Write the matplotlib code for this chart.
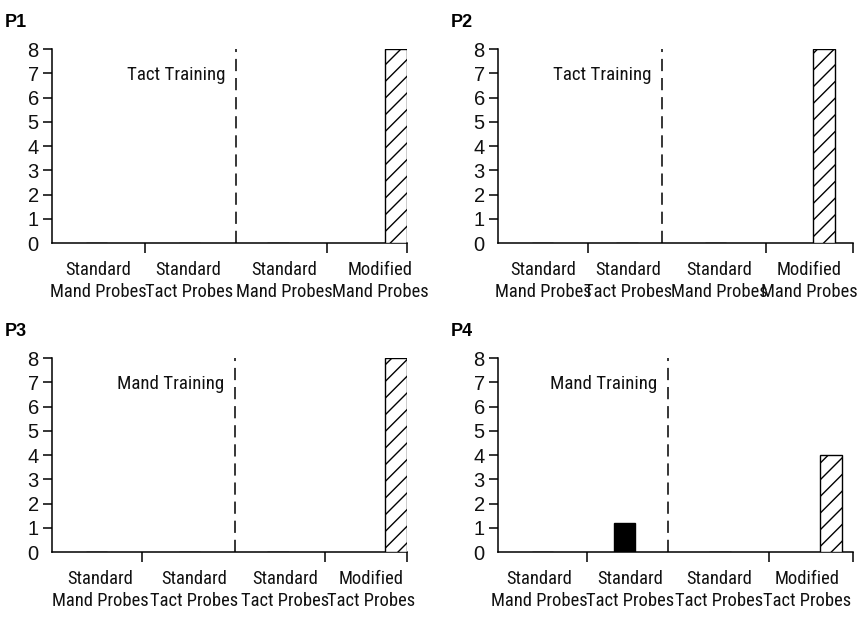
import matplotlib
matplotlib.use("Agg")
import matplotlib.pyplot as plt

NARROW = ["Roboto Condensed", "Liberation Sans", "DejaVu Sans"]
REGULAR = ["Liberation Sans", "DejaVu Sans"]

# data
panels = ["P1", "P2", "P3", "P4"]
training = ["Tact Training", "Tact Training", "Mand Training", "Mand Training"]
categories = [
    ["Standard\nMand Probes", "Standard\nTact Probes", "Standard\nMand Probes", "Modified\nMand Probes"],
    ["Standard\nMand Probes", "Standard\nTact Probes", "Standard\nMand Probes", "Modified\nMand Probes"],
    ["Standard\nMand Probes", "Standard\nTact Probes", "Standard\nTact Probes", "Modified\nTact Probes"],
    ["Standard\nMand Probes", "Standard\nTact Probes", "Standard\nTact Probes", "Modified\nTact Probes"],
]
p1_values = [0, 0, 0, 8]
p2_values = [0, 0, 0, 8]
p3_values = [0, 0, 0, 8]
p4_values = [0, 1.2, 0, 4]
values = [p1_values, p2_values, p3_values, p4_values]
modified = [False, False, False, True]   # hatched bar for modified probes
yticks = list(range(0, 9))

# layout (x in category units, 0-4)
bar_x = [[0.5, 1.55, 2.55, 3.88], [0.5, 1.45, 2.45, 3.67],
         [0.5, 1.55, 2.55, 3.88], [0.5, 1.425, 2.5, 3.755]]
label_x = [[0.52, 1.54, 2.62, 3.70], [0.51, 1.47, 2.49, 3.51],
           [0.54, 1.60, 2.63, 3.60], [0.46, 1.49, 2.49, 3.48]]
bounds = [[1.05, 3.10, 4.0], [1.01, 3.02, 4.0], [1.01, 3.08, 4.0], [1.0, 3.05, 4.0]]
phase_x = [2.07, 1.85, 2.06, 1.92]
boxes = [[52, 49], [498, 49], [52, 358], [498, 358]]
W, H = 860, 618

fig = plt.figure(figsize=(8.6, 6.18), dpi=100)

for i in range(4):
    left, top = boxes[i]
    ax = fig.add_axes([left / W, 1 - (top + 194) / H, 355 / W, 194 / H])
    for j, v in enumerate(values[i]):
        hatched = modified[j]
        ax.bar(bar_x[i][j], v, width=0.245, color="white" if hatched else "black",
               edgecolor="black", linewidth=1.0, hatch="//" if hatched else None,
               zorder=3)
    ax.axvline(phase_x[i], color="black", lw=1.1, dashes=(8, 4.5))
    ax.text(phase_x[i] - 0.12, 6.72, training[i], ha="right", va="baseline",
            fontsize=13.6, family=NARROW, color="#111111")

    ax.set_xlim(0, 4)
    ax.set_ylim(0, 8)
    for s in ["top", "right"]:
        ax.spines[s].set_visible(False)
    for s in ["left", "bottom"]:
        ax.spines[s].set_linewidth(1.1)

    ax.set_yticks(yticks)
    ax.set_yticklabels([str(t) for t in yticks], family=REGULAR, fontsize=14.5,
                       color="#111111")
    ax.tick_params(axis="y", length=6.5, width=1.1, pad=3)
    ax.yaxis.get_major_ticks()[0].tick1line.set_visible(False)

    ax.set_xticks(bounds[i])
    ax.set_xticklabels([])
    ax.tick_params(axis="x", which="major", length=7.5, width=1.1)
    ax.set_xticks(label_x[i], minor=True)
    ax.set_xticklabels(categories[i], minor=True, family=NARROW, fontsize=13.3,
                       color="#111111", linespacing=1.28)
    ax.tick_params(axis="x", which="minor", length=0, pad=13)

    fig.text((left - 47) / W, 1 - (top - 22) / H, panels[i], fontsize=13,
             fontweight="bold", family=REGULAR, va="baseline", ha="left")

fig.savefig("out.png", dpi=100)
